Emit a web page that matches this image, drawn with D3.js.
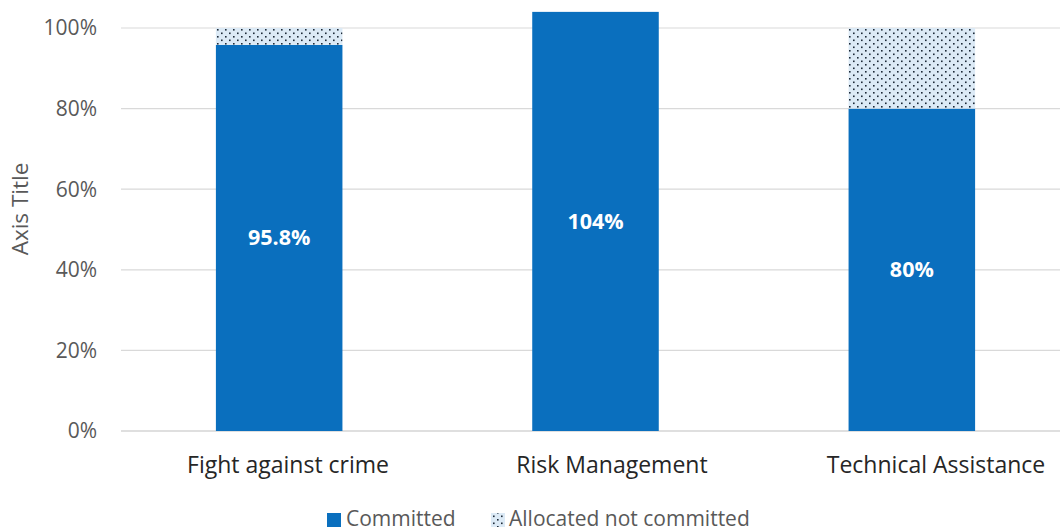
<!DOCTYPE html>
<html>
<head>
<meta charset="utf-8">
<script src="https://cdn.jsdelivr.net/npm/d3@7"></script>
<style>
  html, body { margin: 0; padding: 0; background: #fff; }
  svg text { font-family: "Open Sans", "Noto Sans", sans-serif; }
</style>
</head>
<body>
<svg id="chart" width="1060" height="532"></svg>
<script>
// Budget execution by category (share of allocation)
const categories = ["Fight against crime", "Risk Management", "Technical Assistance"];
const committed = [95.8, 104, 80];
const allocatedNotCommitted = [4.2, 0, 20];
const committedLabels = ["95.8%", "104%", "80%"];
const yTicks = [0, 20, 40, 60, 80, 100];
const seriesNames = ["Committed", "Allocated not committed"];

const svg = d3.select("#chart");
const blue = "#0A6FBE";
const textGrey = "#595959";

// dotted fill for the uncommitted share
const defs = svg.append("defs");
const pat = defs.append("pattern")
  .attr("id", "dots")
  .attr("patternUnits", "userSpaceOnUse")
  .attr("width", 8).attr("height", 7);
pat.append("rect").attr("width", 8).attr("height", 7).attr("fill", "#DCEAF6");
pat.append("rect").attr("x", 1).attr("y", 1).attr("width", 1.6).attr("height", 1.6).attr("fill", "#1d2a38");
pat.append("rect").attr("x", 5).attr("y", 4.5).attr("width", 1.6).attr("height", 1.6).attr("fill", "#1d2a38");

const x = d3.scaleBand()
  .domain(categories)
  .range([121, 1070])
  .paddingInner(0.6)
  .paddingOuter(0.3);

// category label positions along the axis
const xLabel = d3.scalePoint()
  .domain(categories)
  .range([288, 936]);

const y = d3.scaleLinear().domain([0, 100]).range([431, 28]);

// gridlines
svg.append("g")
  .selectAll("line")
  .data(yTicks)
  .join("line")
  .attr("x1", 121).attr("x2", 1060)
  .attr("y1", d => y(d)).attr("y2", d => y(d))
  .attr("stroke", d => d === 0 ? "#bfbfbf" : "#d9d9d9")
  .attr("stroke-width", 1.2);

// y axis labels
svg.append("g")
  .selectAll("text")
  .data(yTicks)
  .join("text")
  .attr("x", 97)
  .attr("y", d => y(d))
  .attr("dy", "0.35em")
  .attr("text-anchor", "end")
  .attr("fill", textGrey)
  .attr("font-size", 21)
  .text(d => d + "%");

// axis title
svg.append("text")
  .attr("transform", "translate(28, 209) rotate(-90)")
  .attr("text-anchor", "middle")
  .attr("fill", textGrey)
  .attr("font-size", 22.5)
  .text("Axis Title");

// committed bars
svg.append("g")
  .selectAll("rect")
  .data(categories)
  .join("rect")
  .attr("x", d => x(d))
  .attr("width", x.bandwidth())
  .attr("y", (d, i) => y(committed[i]))
  .attr("height", (d, i) => y(0) - y(committed[i]))
  .attr("fill", blue);

// allocated-not-committed segments stacked on top
svg.append("g")
  .selectAll("rect")
  .data(categories.filter((d, i) => allocatedNotCommitted[i] > 0))
  .join("rect")
  .attr("x", d => x(d))
  .attr("width", x.bandwidth())
  .attr("y", d => { const i = categories.indexOf(d); return y(committed[i] + allocatedNotCommitted[i]); })
  .attr("height", d => { const i = categories.indexOf(d); return y(committed[i]) - y(committed[i] + allocatedNotCommitted[i]); })
  .attr("fill", "url(#dots)");

// value labels
svg.append("g")
  .selectAll("text")
  .data(categories)
  .join("text")
  .attr("x", d => x(d) + x.bandwidth() / 2)
  .attr("y", (d, i) => (y(committed[i]) + y(0)) / 2)
  .attr("dy", "0.35em")
  .attr("text-anchor", "middle")
  .attr("fill", "#fff")
  .attr("font-weight", "bold")
  .attr("font-size", 21.5)
  .text((d, i) => committedLabels[i]);

// category labels
svg.append("g")
  .selectAll("text")
  .data(categories)
  .join("text")
  .attr("x", d => xLabel(d))
  .attr("y", 465)
  .attr("dy", "0.35em")
  .attr("text-anchor", "middle")
  .attr("fill", "#262626")
  .attr("font-size", 23)
  .text(d => d);

// legend
const legend = svg.append("g");
const legendItems = [
  { name: seriesNames[0], fill: blue, sx: 327, tx: 346 },
  { name: seriesNames[1], fill: "url(#dots)", sx: 491, tx: 509 }
];
legend.selectAll("rect")
  .data(legendItems)
  .join("rect")
  .attr("x", d => d.sx).attr("y", 513)
  .attr("width", 14).attr("height", 14)
  .attr("fill", d => d.fill);
legend.selectAll("text")
  .data(legendItems)
  .join("text")
  .attr("x", d => d.tx).attr("y", 519)
  .attr("dy", "0.35em")
  .attr("fill", textGrey)
  .attr("font-size", 21)
  .text(d => d.name);
</script>
</body>
</html>
